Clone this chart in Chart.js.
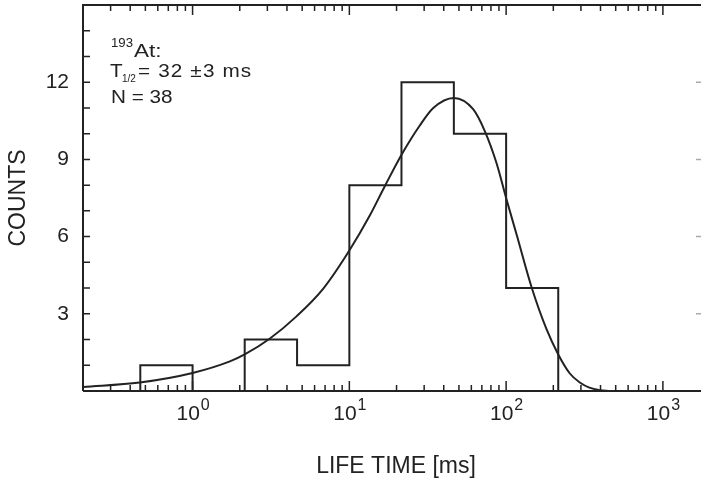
<!DOCTYPE html>
<html>
<head>
<meta charset="utf-8">
<script src="https://cdn.jsdelivr.net/npm/chart.js@4.4.0/dist/chart.umd.min.js"></script>
<style>
  html, body { margin: 0; padding: 0; background: #fff; overflow: hidden; }
  #wrap { width: 702px; height: 483px; }
</style>
</head>
<body>
<div id="wrap"><canvas id="chart" width="702" height="483"></canvas></div>
<script>
// histogram: log bins (3 per decade), counts per bin
const binEdges = [0.464, 1, 2.15, 4.64, 10, 21.5, 46.4, 100, 215];
const binCounts = [1, 0, 2, 1, 8, 12, 10, 4];

// fitted decay curve
const fitTime = [0.2, 0.46, 1.0, 1.73, 2.15, 3.1, 4.6, 6.8, 10, 13.5, 16.8, 21.7, 28, 34.3, 46.4,
  61.6, 73.1, 86.9, 100, 117, 145, 181, 215, 255, 295, 340, 400, 450];
const fitCounts = [0.16, 0.33, 0.70, 1.15, 1.42, 2.03, 2.90, 3.97, 5.46, 6.82, 7.95, 9.22, 10.3, 11.0, 11.39,
  10.95, 10.1, 8.85, 7.5, 6.05, 4.05, 2.4, 1.42, 0.68, 0.33, 0.13, 0.03, 0];

// axis ticks
const decadeTicks = [1, 10, 100, 1000];
const decadeExps = ['0', '1', '2', '3'];
const countTicks = [3, 6, 9, 12];

const INK = '#222';
const FONT = '"Liberation Sans", Arial, sans-serif';

const histPoints = [{ x: binEdges[0], y: 0 }];
binCounts.forEach((c, i) => histPoints.push({ x: binEdges[i], y: c }));
histPoints.push({ x: binEdges[binEdges.length - 1], y: 0 });

const fitPoints = fitTime.map((t, i) => ({ x: t, y: fitCounts[i] }));

// wide text like the scanned original
function wideText(ctx, txt, x, y, size, sx) {
  ctx.save();
  ctx.translate(x, y);
  ctx.scale(sx, 1);
  ctx.font = size + 'px ' + FONT;
  ctx.fillText(txt, 0, 0);
  const w = ctx.measureText(txt).width * sx;
  ctx.restore();
  return w;
}

// frame, inward ticks, superscript labels, titles, annotation
const framePlugin = {
  id: 'frame',
  afterDraw(chart) {
    const { ctx, chartArea: a, scales: { x, y } } = chart;
    ctx.save();
    ctx.strokeStyle = INK;
    ctx.lineWidth = 2;
    ctx.beginPath();
    ctx.moveTo(a.left, a.bottom);
    ctx.lineTo(a.left, a.top);
    ctx.lineTo(a.right, a.top);
    ctx.moveTo(a.left, a.bottom);
    ctx.lineTo(a.right, a.bottom);
    ctx.stroke();

    // log ticks top and bottom
    ctx.lineWidth = 1.5;
    ctx.beginPath();
    [0.1, 1, 10, 100, 1000].forEach(d => {
      for (let m = 1; m <= 9; m++) {
        const v = m * d;
        if (v <= x.min || v >= x.max) continue;
        const px = x.getPixelForValue(v);
        const len = m === 1 ? 10 : 6;
        ctx.moveTo(px, a.bottom); ctx.lineTo(px, a.bottom - len);
        ctx.moveTo(px, a.top); ctx.lineTo(px, a.top + len);
      }
    });
    // count ticks on the left
    for (let v = 1; v < 15; v++) {
      const py = y.getPixelForValue(v);
      ctx.moveTo(a.left, py); ctx.lineTo(a.left + 7, py);
    }
    ctx.stroke();

    // faint ticks on the right edge
    ctx.strokeStyle = '#aaa';
    ctx.beginPath();
    countTicks.forEach(v => {
      const py = y.getPixelForValue(v);
      ctx.moveTo(a.right, py); ctx.lineTo(a.right - 5, py);
    });
    ctx.stroke();

    // x tick labels 10^n
    ctx.fillStyle = INK;
    ctx.textBaseline = 'alphabetic';
    ctx.textAlign = 'left';
    decadeTicks.forEach((v, i) => {
      const px = x.getPixelForValue(v);
      ctx.font = '21px ' + FONT;
      const w1 = ctx.measureText('10').width;
      ctx.font = '16px ' + FONT;
      const w2 = ctx.measureText(decadeExps[i]).width;
      const x0 = px - (w1 + w2) / 2;
      ctx.font = '21px ' + FONT;
      ctx.fillText('10', x0, 420);
      ctx.font = '16px ' + FONT;
      ctx.fillText(decadeExps[i], x0 + w1 + 1, 410);
    });

    // axis titles
    ctx.font = '23px ' + FONT;
    ctx.textAlign = 'center';
    ctx.textBaseline = 'middle';
    ctx.fillText('LIFE TIME [ms]', (a.left + a.right) / 2 + 4, 467);
    ctx.save();
    ctx.translate(19, (a.top + a.bottom) / 2);
    ctx.rotate(-Math.PI / 2);
    ctx.fillText('COUNTS', 0, 0);
    ctx.restore();

    // annotation
    ctx.textAlign = 'left';
    ctx.textBaseline = 'alphabetic';
    const w193 = wideText(ctx, '193', 111, 47, 12, 1.1);
    wideText(ctx, 'At:', 111 + w193 + 1, 57, 18, 1.25);
    wideText(ctx, 'T', 110, 77, 18, 1.15);
    wideText(ctx, '1/2', 122, 82, 10, 1.0);
    ctx.letterSpacing = '1px';
    wideText(ctx, '= 32 \u00b13 ms', 138, 77, 18, 1.15);
    ctx.letterSpacing = '0px';
    wideText(ctx, 'N = 38', 111, 103, 18, 1.15);
    ctx.restore();
  }
};

new Chart(document.getElementById('chart'), {
  type: 'scatter',
  data: {
    datasets: [
      {
        label: 'histogram',
        data: histPoints,
        showLine: true,
        stepped: 'before',
        borderColor: INK,
        borderWidth: 2,
        pointRadius: 0
      },
      {
        label: 'fit',
        data: fitPoints,
        showLine: true,
        cubicInterpolationMode: 'monotone',
        borderColor: INK,
        borderWidth: 2,
        pointRadius: 0
      }
    ]
  },
  options: {
    responsive: false,
    animation: false,
    layout: { padding: { top: 5, right: 1, left: 0, bottom: 0 } },
    plugins: { legend: { display: false }, tooltip: { enabled: false } },
    scales: {
      x: {
        type: 'logarithmic',
        min: 0.2,
        max: 1750,
        grid: { display: false },
        border: { display: false },
        ticks: { display: false },
        afterFit: s => {
          s.height = 92;
          s.paddingLeft = 0; s.paddingRight = 0;
        }
      },
      y: {
        min: 0,
        max: 15,
        grid: { display: false, drawTicks: false },
        border: { display: false },
        ticks: {
          stepSize: 1,
          autoSkip: false,
          padding: 14,
          color: INK,
          font: { family: FONT, size: 21 },
          callback: v => countTicks.includes(v) ? String(v) : ''
        },
        afterFit: s => {
          s.width = 83;
          s.paddingTop = 0; s.paddingBottom = 0;
        }
      }
    }
  },
  plugins: [framePlugin]
});
</script>
</body>
</html>
